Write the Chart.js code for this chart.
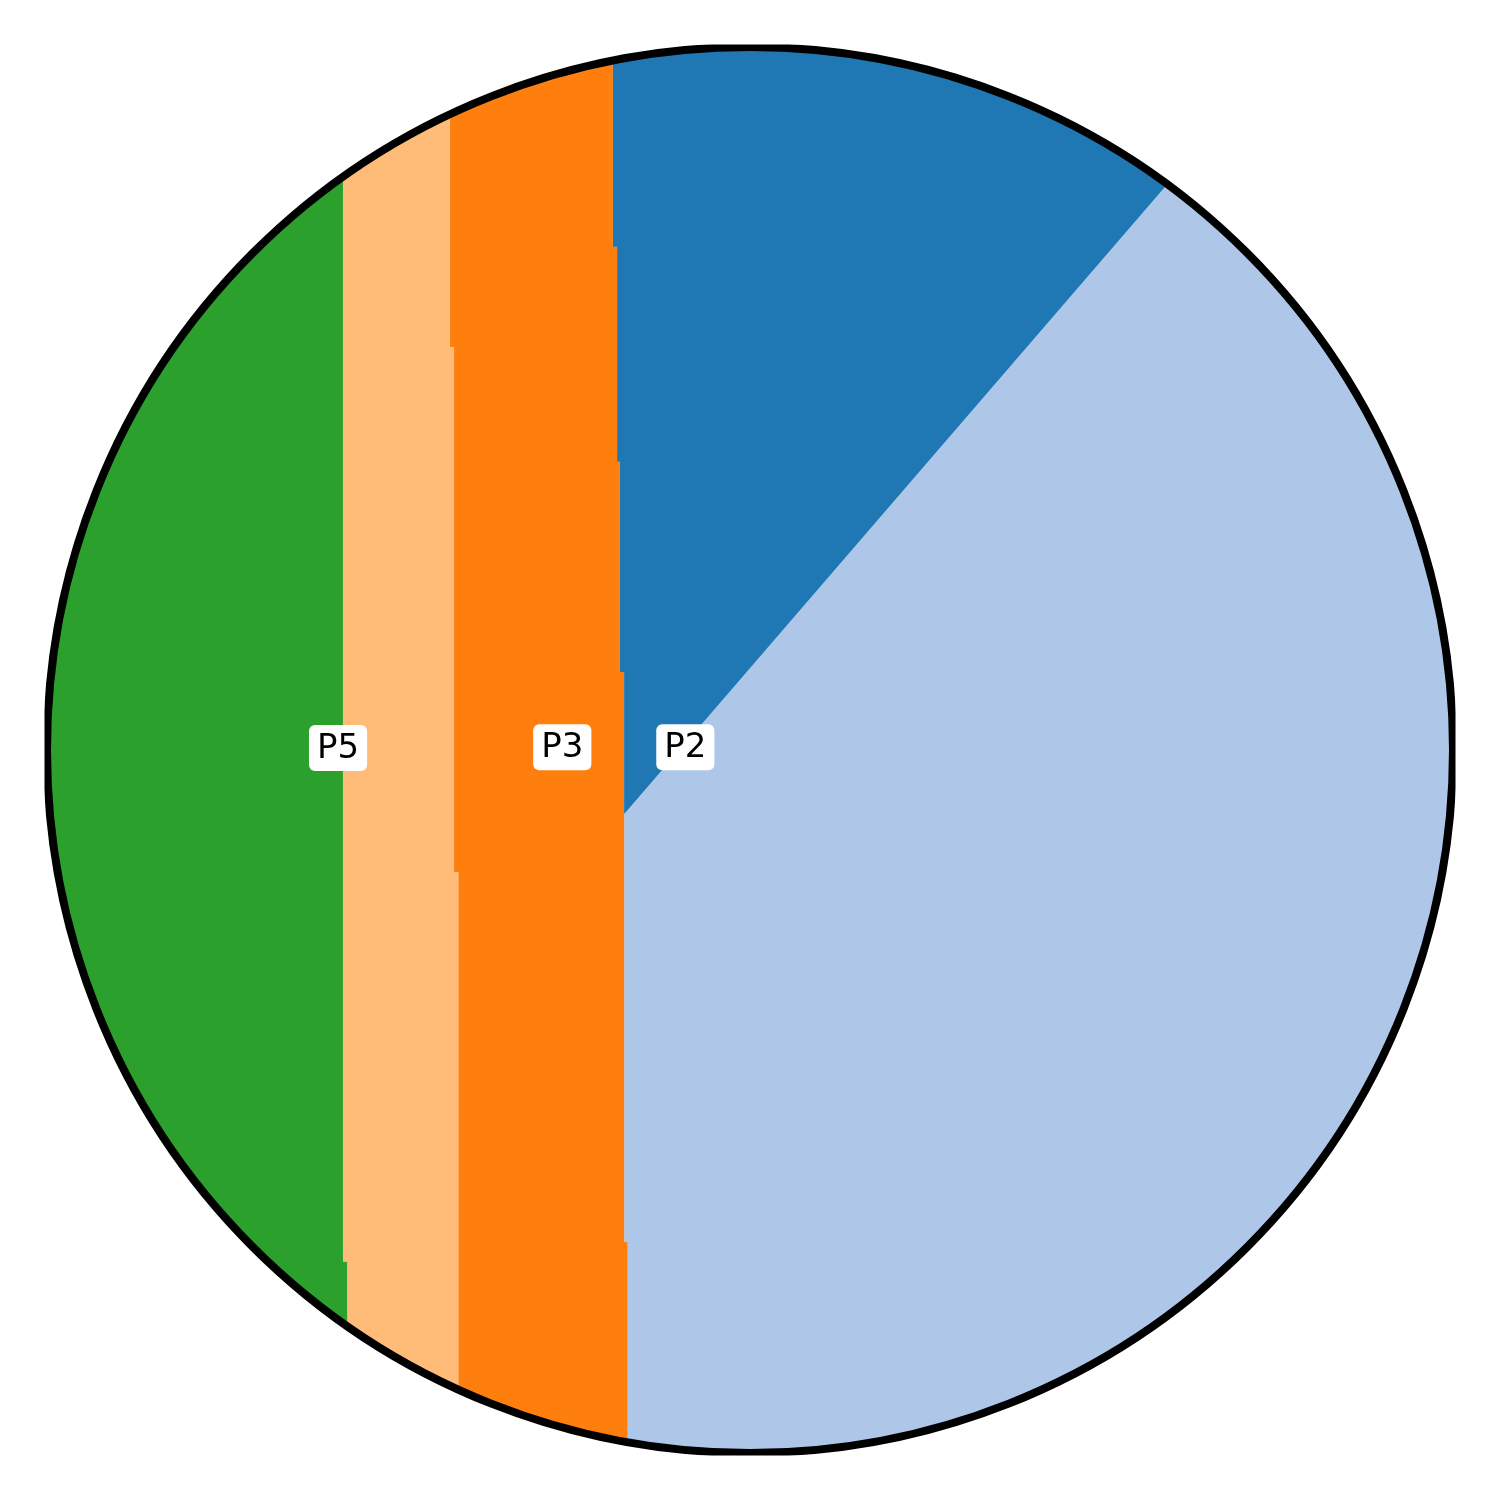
<!DOCTYPE html>
<html>
<head>
<meta charset="utf-8">
<script src="https://cdn.jsdelivr.net/npm/chart.js@4/dist/chart.umd.min.js"></script>
<style>
    html, body { margin: 0; padding: 0; background: #ffffff; }
    #wrap { width: 1500px; height: 1500px; position: relative; }
</style>
</head>
<body>
<div id="wrap"><canvas id="regionChart"></canvas></div>
<script>
// Region names and colours (left to right, plus the upper right wedge)
const regionNames = ["P5", "P4", "P3", "P2", "P1"];
const regionColors = ["#2ca02c", "#ffbb78", "#ff7f0e", "#aec7e8", "#1f77b4"];

// Vertical dividers, read top to bottom: x of each piece, y where it steps
const divider1X = [-0.579, -0.573];
const divider1Y = [-0.728];
const divider2X = [-0.427, -0.421, -0.415];
const divider2Y = [0.573, -0.174];
const divider3X = [-0.195, -0.189, -0.185, -0.179, -0.174];
const divider3Y = [0.716, 0.410, 0.111, -0.700];

// Diagonal edge between P1 and P2
const ridgeStart = [-0.179, -0.091];
const ridgeEnd = [0.63, 0.847];

// Labels shown on the chart
const labelNames = ["P5", "P3", "P2"];
const labelX = [-0.586, -0.267, -0.092];
const labelY = [0.003, 0.004, 0.004];

const EDGE = 1.1;

// staircase points of a divider, from top down
function stairs(xs, ys) {
    const pts = [{ x: xs[0], y: EDGE }];
    ys.forEach((y, i) => {
        pts.push({ x: xs[i], y: y });
        pts.push({ x: xs[i + 1], y: y });
    });
    pts.push({ x: xs[xs.length - 1], y: -EDGE });
    return pts;
}

function between(leftPts, rightPts) {
    // down the left side, back up the right side
    return leftPts.concat(rightPts.slice().reverse());
}

const outerLeft = [{ x: -EDGE, y: EDGE }, { x: -EDGE, y: -EDGE }];
const outerRight = [{ x: EDGE, y: EDGE }, { x: EDGE, y: -EDGE }];
const d1 = stairs(divider1X, divider1Y);
const d2 = stairs(divider2X, divider2Y);
const d3 = stairs(divider3X, divider3Y);

// P1 wedge: divider 3 down to the ridge, then along the ridge
const d3Top = d3.filter((p) => p.y >= ridgeStart[1]);
const wedge = d3Top.concat([
    { x: ridgeStart[0], y: ridgeStart[1] },
    { x: ridgeEnd[0], y: ridgeEnd[1] },
    { x: ridgeEnd[0], y: EDGE },
]);

const polygons = [
    between(outerLeft, d1),
    between(d1, d2),
    between(d2, d3),
    between(d3, outerRight),
    wedge,
];

const datasets = polygons.map((pts, i) => ({
    label: regionNames[i],
    data: pts,
    showLine: true,
    fill: "shape",
    backgroundColor: regionColors[i],
    borderColor: regionColors[i],
    borderWidth: 0,
    pointRadius: 0,
    tension: 0,
    order: i === 4 ? 0 : 1, // wedge sits on top of P2
}));

function centerAndRadius(chart) {
    const xs = chart.scales.x;
    const ys = chart.scales.y;
    return {
        cx: xs.getPixelForValue(0),
        cy: ys.getPixelForValue(0),
        r: xs.getPixelForValue(1) - xs.getPixelForValue(0),
    };
}

const circlePlugin = {
    id: "circleClip",
    beforeDatasetsDraw(chart) {
        const { ctx } = chart;
        const c = centerAndRadius(chart);
        ctx.save();
        ctx.beginPath();
        ctx.arc(c.cx, c.cy, c.r, 0, Math.PI * 2);
        ctx.clip();
    },
    afterDatasetsDraw(chart) {
        const { ctx } = chart;
        ctx.restore();
        const c = centerAndRadius(chart);
        // outline, cut flat a little outside the plot box
        ctx.save();
        ctx.beginPath();
        ctx.rect(c.cx - c.r - 2.5, c.cy - c.r - 2.5, 2 * c.r + 5, 2 * c.r + 5);
        ctx.clip();
        ctx.beginPath();
        ctx.arc(c.cx, c.cy, c.r, 0, Math.PI * 2);
        ctx.lineWidth = 8;
        ctx.strokeStyle = "#000000";
        ctx.stroke();
        ctx.restore();

        // white label boxes
        ctx.save();
        ctx.font = "34px 'DejaVu Sans'";
        ctx.textAlign = "center";
        ctx.textBaseline = "middle";
        labelNames.forEach((name, i) => {
            const px = chart.scales.x.getPixelForValue(labelX[i]);
            const py = chart.scales.y.getPixelForValue(labelY[i]);
            const w = ctx.measureText(name).width + 16;
            const h = 46;
            ctx.beginPath();
            ctx.roundRect(px - w / 2, py - h / 2, w, h, 6);
            ctx.fillStyle = "#ffffff";
            ctx.fill();
            ctx.fillStyle = "#000000";
            ctx.fillText(name, px, py + 1);
        });
        ctx.restore();
    },
};

new Chart(document.getElementById("regionChart"), {
    type: "scatter",
    data: { datasets: datasets },
    options: {
        responsive: true,
        maintainAspectRatio: false,
        animation: false,
        layout: { padding: 47 },
        plugins: {
            legend: { display: false },
            tooltip: { enabled: false },
        },
        scales: {
            x: { type: "linear", min: -1, max: 1, display: false },
            y: { type: "linear", min: -1, max: 1, display: false },
        },
    },
    plugins: [circlePlugin],
});
</script>
</body>
</html>
